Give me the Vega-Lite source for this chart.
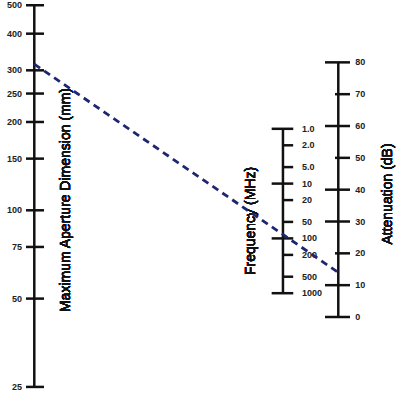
{
  "$schema": "https://vega.github.io/schema/vega-lite/v6.json",
  "width": 400,
  "height": 396,
  "autosize": {"type": "none"},
  "padding": 0,
  "background": "white",
  "config": {"view": {"stroke": null}, "font": "Liberation Sans"},
  "datasets": {
    "aperture": [
      {"mm": 25, "label": "25"}, {"mm": 50, "label": "50"}, {"mm": 75, "label": "75"},
      {"mm": 100, "label": "100"}, {"mm": 150, "label": "150"}, {"mm": 200, "label": "200"},
      {"mm": 250, "label": "250"}, {"mm": 300, "label": "300"}, {"mm": 400, "label": "400"},
      {"mm": 500, "label": "500"}
    ],
    "frequency": [
      {"mhz": 1, "label": "1.0", "decade": true}, {"mhz": 2, "label": "2.0", "decade": false},
      {"mhz": 5, "label": "5.0", "decade": false}, {"mhz": 10, "label": "10", "decade": true},
      {"mhz": 20, "label": "20", "decade": false}, {"mhz": 50, "label": "50", "decade": false},
      {"mhz": 100, "label": "100", "decade": true}, {"mhz": 200, "label": "200", "decade": false},
      {"mhz": 500, "label": "500", "decade": false}, {"mhz": 1000, "label": "1000", "decade": true}
    ],
    "attenuation": [
      {"db": 0, "label": "0", "long": true}, {"db": 10, "label": "10", "long": true},
      {"db": 20, "label": "20", "long": false}, {"db": 30, "label": "30", "long": true},
      {"db": 40, "label": "40", "long": true}, {"db": 50, "label": "50", "long": false},
      {"db": 60, "label": "60", "long": true}, {"db": 70, "label": "70", "long": false},
      {"db": 80, "label": "80", "long": true}
    ],
    "example": [{"aperture_mm": 315, "end_mm": 61.4}]
  },
  "layer": [
    {
      "data": {"name": "aperture"},
      "layer": [
        {
          "mark": {"type": "rule", "strokeWidth": 2.5, "color": "#111"},
          "encoding": {
            "x": {"datum": 0, "type": "quantitative", "scale": {"domain": [-0.1128, 1.203], "nice": false, "zero": false}, "axis": null},
            "y": {"aggregate": "min", "field": "mm", "type": "quantitative", "scale": {"type": "log", "domain": [23.28, 521.0], "nice": false, "zero": false}, "axis": null},
            "y2": {"aggregate": "max", "field": "mm"}
          }
        },
        {
          "mark": {"type": "tick", "orient": "horizontal", "size": 18, "thickness": 2.5, "xOffset": 0.7, "color": "#111", "opacity": 1},
          "encoding": {
            "x": {"datum": 0, "type": "quantitative", "axis": null},
            "y": {"field": "mm", "type": "quantitative", "scale": {"type": "log", "domain": [23.28, 521.0], "nice": false, "zero": false}, "axis": null}
          }
        },
        {
          "mark": {"type": "text", "align": "right", "baseline": "middle", "dx": -12.3, "fontSize": 9, "fontWeight": "bold", "font": "Liberation Sans", "color": "#222"},
          "encoding": {
            "x": {"datum": 0, "type": "quantitative", "axis": null},
            "y": {"field": "mm", "type": "quantitative", "scale": {"type": "log", "domain": [23.28, 521.0], "nice": false, "zero": false}, "axis": null},
            "text": {"field": "label"}
          }
        },
        {
          "mark": {"type": "text", "angle": 270, "align": "center", "baseline": "middle", "fontSize": 14, "font": "Liberation Sans", "color": "#111"},
          "encoding": {
            "x": {"datum": 0.1043, "type": "quantitative", "axis": null},
            "y": {"datum": 108.4, "type": "quantitative", "scale": {"type": "log", "domain": [23.28, 521.0], "nice": false, "zero": false}, "axis": null},
            "text": {"value": "Maximum Aperture Dimension (mm)"}
          }
        }
      ]
    },
    {
      "data": {"name": "frequency"},
      "layer": [
        {
          "mark": {"type": "rule", "strokeWidth": 2.5, "color": "#111"},
          "encoding": {
            "x": {"datum": 0.818, "type": "quantitative", "axis": null},
            "y": {"aggregate": "min", "field": "mhz", "type": "quantitative", "scale": {"type": "log", "domain": [0.004463, 75140], "reverse": true, "nice": false, "zero": false}, "axis": null},
            "y2": {"aggregate": "max", "field": "mhz"}
          }
        },
        {
          "transform": [{"filter": "datum.decade"}],
          "mark": {"type": "tick", "orient": "horizontal", "size": 21.6, "thickness": 2.5, "xOffset": -0.5, "color": "#111", "opacity": 1},
          "encoding": {
            "x": {"datum": 0.818, "type": "quantitative", "axis": null},
            "y": {"field": "mhz", "type": "quantitative", "scale": {"type": "log", "domain": [0.004463, 75140], "reverse": true, "nice": false, "zero": false}, "axis": null}
          }
        },
        {
          "transform": [{"filter": "!datum.decade"}],
          "mark": {"type": "tick", "orient": "horizontal", "size": 11, "thickness": 2.5, "xOffset": 4.7, "color": "#111", "opacity": 1},
          "encoding": {
            "x": {"datum": 0.818, "type": "quantitative", "axis": null},
            "y": {"field": "mhz", "type": "quantitative", "scale": {"type": "log", "domain": [0.004463, 75140], "reverse": true, "nice": false, "zero": false}, "axis": null}
          }
        },
        {
          "mark": {"type": "text", "align": "left", "baseline": "middle", "dx": 19, "fontSize": 9, "fontWeight": "bold", "font": "Liberation Sans", "color": "#222"},
          "encoding": {
            "x": {"datum": 0.818, "type": "quantitative", "axis": null},
            "y": {"field": "mhz", "type": "quantitative", "scale": {"type": "log", "domain": [0.004463, 75140], "reverse": true, "nice": false, "zero": false}, "axis": null},
            "text": {"field": "label"}
          }
        },
        {
          "mark": {"type": "text", "angle": 270, "align": "center", "baseline": "middle", "fontSize": 14, "font": "Liberation Sans", "color": "#111"},
          "encoding": {
            "x": {"datum": 0.7128, "type": "quantitative", "axis": null},
            "y": {"datum": 48.1, "type": "quantitative", "scale": {"type": "log", "domain": [0.004463, 75140], "reverse": true, "nice": false, "zero": false}, "axis": null},
            "text": {"value": "Frequency (MHz)"}
          }
        }
      ]
    },
    {
      "data": {"name": "attenuation"},
      "layer": [
        {
          "mark": {"type": "rule", "strokeWidth": 2.5, "color": "#111"},
          "encoding": {
            "x": {"datum": 1, "type": "quantitative", "axis": null},
            "y": {"aggregate": "min", "field": "db", "type": "quantitative", "scale": {"domain": [-24.82, 99.59], "nice": false, "zero": false}, "axis": null},
            "y2": {"aggregate": "max", "field": "db"}
          }
        },
        {
          "transform": [{"filter": "datum.long"}],
          "mark": {"type": "tick", "orient": "horizontal", "size": 25, "thickness": 2.5, "xOffset": -0.8, "color": "#111", "opacity": 1},
          "encoding": {
            "x": {"datum": 1, "type": "quantitative", "axis": null},
            "y": {"field": "db", "type": "quantitative", "scale": {"domain": [-24.82, 99.59], "nice": false, "zero": false}, "axis": null}
          }
        },
        {
          "transform": [{"filter": "!datum.long"}],
          "mark": {"type": "tick", "orient": "horizontal", "size": 15, "thickness": 2.5, "xOffset": 4.2, "color": "#111", "opacity": 1},
          "encoding": {
            "x": {"datum": 1, "type": "quantitative", "axis": null},
            "y": {"field": "db", "type": "quantitative", "scale": {"domain": [-24.82, 99.59], "nice": false, "zero": false}, "axis": null}
          }
        },
        {
          "mark": {"type": "text", "align": "left", "baseline": "middle", "dx": 17, "fontSize": 9, "fontWeight": "bold", "font": "Liberation Sans", "color": "#222"},
          "encoding": {
            "x": {"datum": 1, "type": "quantitative", "axis": null},
            "y": {"field": "db", "type": "quantitative", "scale": {"domain": [-24.82, 99.59], "nice": false, "zero": false}, "axis": null},
            "text": {"field": "label"}
          }
        },
        {
          "mark": {"type": "text", "angle": 270, "align": "center", "baseline": "middle", "fontSize": 14, "font": "Liberation Sans", "color": "#111"},
          "encoding": {
            "x": {"datum": 1.1635, "type": "quantitative", "axis": null},
            "y": {"datum": 38.64, "type": "quantitative", "scale": {"domain": [-24.82, 99.59], "nice": false, "zero": false}, "axis": null},
            "text": {"value": "Attenuation (dB)"}
          }
        }
      ]
    },
    {
      "data": {"name": "example"},
      "mark": {"type": "rule", "strokeWidth": 2.8, "strokeDash": [7, 5], "color": "#1d2670"},
      "encoding": {
        "x": {"datum": 0, "type": "quantitative", "axis": null},
        "x2": {"datum": 1},
        "y": {"field": "aperture_mm", "type": "quantitative", "scale": {"type": "log", "domain": [23.28, 521.0], "nice": false, "zero": false}, "axis": null},
        "y2": {"field": "end_mm"}
      }
    }
  ],
  "resolve": {"scale": {"y": "independent"}}
}
